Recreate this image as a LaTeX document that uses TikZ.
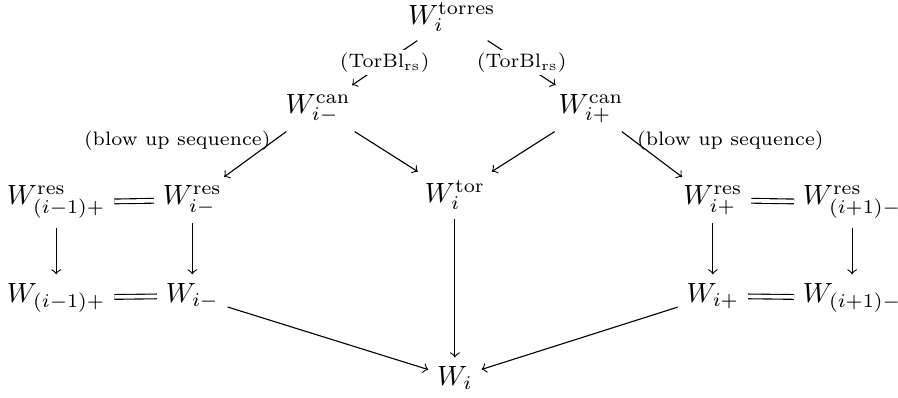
\documentclass[tikz,border=0pt]{standalone}

\begin{document}
\begin{tikzpicture}[
  obj/.style={anchor=base, inner sep=3pt},
  arr/.style={->},
  eq/.style={double, double distance=1.3pt},
  lbl/.style={font=\scriptsize, inner sep=1pt},
  desc/.style={lbl, fill=white},
]
\useasboundingbox (0,0) rectangle (11.35,5.03);

%% ── top: the tower ────────────────────────────────────────────────
\node[obj] (tors) at (5.71, 4.72) {$W_i^{\mathrm{torres}}$};
\node[obj] (canm) at (4.02, 3.60) {$W_{i-}^{\mathrm{can}}$};
\node[obj] (canp) at (7.47, 3.60) {$W_{i+}^{\mathrm{can}}$};

%% ── middle row: resolutions ───────────────────────────────────────
\node[obj] (resmm) at (0.71, 2.44)  {$W_{(i-1)+}^{\mathrm{res}}$};
\node[obj] (resm)  at (2.43, 2.44)  {$W_{i-}^{\mathrm{res}}$};
\node[obj] (tor)   at (5.75, 2.47)  {$W_i^{\mathrm{tor}}$};
\node[obj] (resp)  at (9.01, 2.44)  {$W_{i+}^{\mathrm{res}}$};
\node[obj] (respp) at (10.77, 2.44) {$W_{(i+1)-}^{\mathrm{res}}$};

%% ── lower row ─────────────────────────────────────────────────────
\node[obj] (wmm) at (0.71, 1.21)  {$W_{(i-1)+}$};
\node[obj] (wm)  at (2.43, 1.21)  {$W_{i-}$};
\node[obj] (wp)  at (9.01, 1.21)  {$W_{i+}$};
\node[obj] (wpp) at (10.77, 1.21) {$W_{(i+1)-}$};

\node[obj] (wi) at (5.75, 0.16) {$W_i$};

%% arrows from the top
\draw[arr] (tors) -- node[desc] {$(\mathrm{TorBl}_{\mathrm{rs}})$} (canm);
\draw[arr] (tors) -- node[desc] {$(\mathrm{TorBl}_{\mathrm{rs}})$} (canp);

\draw[arr] (canm) -- node[lbl, pos=0.2, anchor=east] {(blow up sequence)} (resm);
\draw[arr] (canm) -- (tor);
\draw[arr] (canp) -- (tor);
\draw[arr] (canp) -- node[lbl, pos=0.2, anchor=west] {(blow up sequence)} (resp);

%% equalities
\draw[eq] (resmm) -- (resm);
\draw[eq] (resp) -- (respp);
\draw[eq] (wmm) -- (wm);
\draw[eq] (wp) -- (wpp);

%% downwards
\draw[arr] (resmm) -- (wmm);
\draw[arr] (resm) -- (wm);
\draw[arr] (resp) -- (wp);
\draw[arr] (respp) -- (wpp);
\draw[arr] (tor) -- (wi);
\draw[arr] (wm) -- (wi);
\draw[arr] (wp) -- (wi);

\end{tikzpicture}
\end{document}
